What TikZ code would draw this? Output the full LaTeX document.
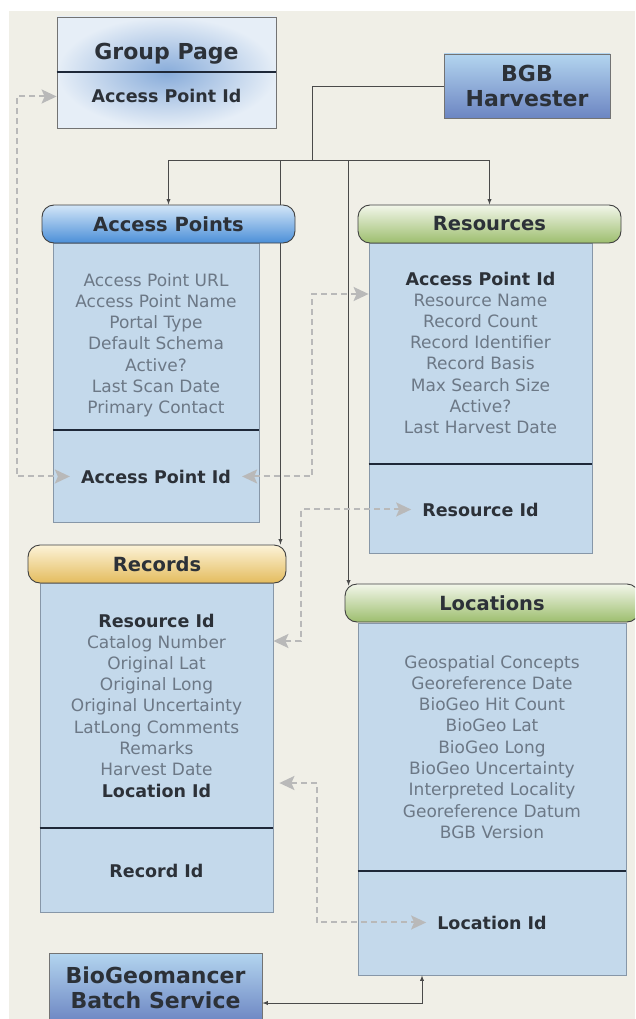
\documentclass[tikz,border=0pt]{standalone}
\usepackage{fontspec}
\setmainfont{DejaVu Sans}
\usetikzlibrary{arrows.meta,backgrounds}

\definecolor{paper}{HTML}{F0EFE7}
\definecolor{bodyblue}{HTML}{C4D9EB}
\definecolor{bodyline}{HTML}{8797A8}
\definecolor{fieldgray}{HTML}{6C7886}
\definecolor{keydark}{HTML}{2C3138}
\definecolor{linkgray}{HTML}{B9B9B9}
\definecolor{wiregray}{HTML}{4A4A4A}
\definecolor{divnavy}{HTML}{1E2838}
\definecolor{svctop}{HTML}{B3D5EF}
\definecolor{svcbot}{HTML}{6C85C2}
\definecolor{aptop}{HTML}{D3E6F8}
\definecolor{apbot}{HTML}{4B8FD8}
\definecolor{restop}{HTML}{F2F6EA}
\definecolor{resbot}{HTML}{9DBE6E}
\definecolor{rectop}{HTML}{FCF3D8}
\definecolor{recbot}{HTML}{E4BC5E}
\definecolor{gpin}{HTML}{88ACDA}
\definecolor{gpout}{HTML}{E6EEF7}

\begin{document}
\begin{tikzpicture}[x=1pt,y=-1pt,
	body/.style={draw=bodyline, fill=bodyblue, line width=0.8pt, inner sep=0pt},
	header/.style={draw=black!75, line width=0.9pt, rounded corners=12pt, minimum height=38, inner sep=0pt, text=keydark, font=\bfseries\fontsize{19.5}{23}\selectfont},
	service/.style={draw=black!55, line width=0.8pt, top color=svctop, bottom color=svcbot, inner sep=0pt, align=center, text=keydark, font=\bfseries\fontsize{22}{25}\selectfont},
	field/.style={anchor=base, inner sep=0pt, text=fieldgray, font=\fontsize{17}{20}\selectfont},
	keyrow/.style={anchor=base, inner sep=0pt, text=keydark, font=\bfseries\fontsize{17.5}{20}\selectfont},
	keyid/.style={keyrow, inner xsep=11pt},
	divider/.style={draw=divnavy, line width=1.6pt},
	wire/.style={draw=wiregray, line width=0.9pt},
	fk/.style={draw=linkgray, line width=2pt, dash pattern=on 6pt off 4pt, arrows={Stealth[length=15pt,width=14pt,inset=3pt,fill=linkgray]-Stealth[length=15pt,width=14pt,inset=3pt,fill=linkgray]}}]
	\useasboundingbox (0,0) rectangle (635,1019);
	\clip (0,0) rectangle (635,1019);

	% tables
	\node[draw=black!55, line width=0.8pt, shading=radial, inner color=gpin, outer color=gpout, minimum width=219, minimum height=111] (gp) at (166.5,72.5) {};
	\draw[divider] (gp.west |- 0,72) -- (gp.east |- 0,72);
	\node[keyrow, font=\bfseries\fontsize{22}{25}\selectfont] (gpTitle) at (166.5,60) {Group Page};
	\node[keyid] (gpKey) at (166.5,103) {Access Point Id};

	\node[service] (bgb) at (527,86) [minimum width=166, minimum height=64] {BGB\\Harvester};

	\node[body, minimum width=206, minimum height=279] (apBody) at (156,382.5) {};
	\node[header, top color=aptop, bottom color=apbot, minimum width=253] (apHead) at (168.5,224) {Access Points};
	\draw[divider] (apBody.west |- 0,430) -- (apBody.east |- 0,430);
	\foreach \t [count=\i from 0] in {Access Point URL,Access Point Name,Portal Type,Default Schema,Active?,Last Scan Date,Primary Contact}
		\node[field] (ap\i) at (156,{286+21.3*\i}) {\t};
	\node[keyid] (apKey) at (156,483) {Access Point Id};

	\node[body, minimum width=223, minimum height=310] (resBody) at (480.5,398) {};
	\node[header, top color=restop, bottom color=resbot, minimum width=263] (resHead) at (489.5,224) {Resources};
	\draw[divider] (resBody.west |- 0,464) -- (resBody.east |- 0,464);
	\node[keyrow] (resF) at (480.5,285) {Access Point Id};
	\foreach \t [count=\i from 0] in {Resource Name,Record Count,Record Identifier,Record Basis,Max Search Size,Active?,Last Harvest Date}
		\node[field] (res\i) at (480.5,{306+21.3*\i}) {\t};
	\node[keyid] (resKey) at (480.5,516) {Resource Id};

	\node[body, minimum width=233, minimum height=329] (recBody) at (156.5,747.5) {};
	\node[header, top color=rectop, bottom color=recbot, minimum width=258] (recHead) at (157,564) {Records};
	\draw[divider] (recBody.west |- 0,828) -- (recBody.east |- 0,828);
	\node[keyrow] (recF) at (156.5,627) {Resource Id};
	\foreach \t [count=\i from 0] in {Catalog Number,Original Lat,Original Long,Original Uncertainty,LatLong Comments,Remarks,Harvest Date}
		\node[field] (rec\i) at (156.5,{648+21.3*\i}) {\t};
	\node[keyrow] (recL) at (156.5,797) {Location Id};
	\node[keyid] (recKey) at (156.5,877) {Record Id};

	\node[body, minimum width=268, minimum height=352] (locBody) at (492,799) {};
	\node[header, top color=restop, bottom color=resbot, minimum width=294] (locHead) at (492,603) {Locations};
	\draw[divider] (locBody.west |- 0,871) -- (locBody.east |- 0,871);
	\foreach \t [count=\i from 0] in {Geospatial Concepts,Georeference Date,BioGeo Hit Count,BioGeo Lat,BioGeo Long,BioGeo Uncertainty,Interpreted Locality,Georeference Datum,BGB Version}
		\node[field] (loc\i) at (492,{668+21.3*\i}) {\t};
	\node[keyid] (locKey) at (492,929) {Location Id};

	\node[service] (bgm) at (155.5,988) [minimum width=213, minimum height=70] {BioGeomancer\\Batch Service};

	% harvester wiring, under the boxes
	\begin{scope}[on background layer]
		\fill[white] (0,0) rectangle (635,1019);
		\fill[paper] (9,11) rectangle (635,1019);
		\coordinate (bus) at (312,160);
		\draw[wire] (bgb.west) -| (bus);
		\draw[wire, arrows={-latex}] (bus) -| (apHead.north);
		\draw[wire, arrows={-latex}] (bus) -| (resHead.north);
		\draw[wire, arrows={-latex}] (bus) -| ([xshift=-6pt]recHead.north east);
		\draw[wire, arrows={-latex}] (bus) -| ([xshift=4pt,yshift=-2pt]locHead.north west);
	\end{scope}
	\draw[wire, arrows={latex-latex}] ([yshift=-15pt]bgm.east) -| ([xshift=-70pt]locBody.south);

	% keys
	\draw[fk] (gpKey -| gp.west) -- ++(-40,0) |- (apKey.west);
	\draw[fk] (apKey.east) -| (312,294) -- (resBody.west |- 0,294);
	\draw[fk] (resKey.west) -| (301,641) -- (recBody.east |- 0,641);
	\draw[fk, shorten <=6pt] (recBody.east |- 0,783) -- (317,783) |- (locKey.west);
\end{tikzpicture}
\end{document}
